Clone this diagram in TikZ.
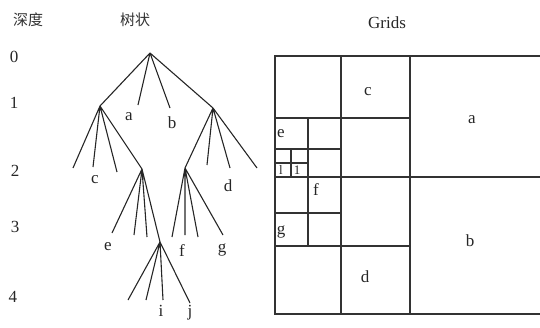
\documentclass[tikz,border=0pt]{standalone}
\usepackage{fontspec}
\setmainfont{Liberation Serif}
\newfontfamily\cjk{Noto Sans CJK SC}
\begin{document}
\begin{tikzpicture}[x=1pt,y=-1pt,
  edge/.style={line width=1.1pt,draw=black!85},
  gridline/.style={line width=1.2pt,draw=black!80},
  lbl/.style={font=\fontsize{17}{20}\selectfont,inner sep=0pt,text=black!85},
  cjklbl/.style={font=\cjk\fontsize{15}{18}\selectfont,inner sep=0pt,text=black!80}]
\useasboundingbox (0,0) rectangle (540,327);
% headers
\node[cjklbl] (hdepth) at (28,20) {深度};
\node[cjklbl] (htree) at (135,20) {树状};
\node[lbl] (hgrid) at (387,23) {Grids};
% depth numbers
\node[lbl] (d0) at (14,57) {0};
\node[lbl] (d1) at (14,103) {1};
\node[lbl] (d2) at (15,171) {2};
\node[lbl] (d3) at (15,227) {3};
\node[lbl] (d4) at (13,297) {4};
% tree vertices
\coordinate (r) at (150,53);
\coordinate (n1) at (100,106);
\coordinate (n2) at (213,108);
\coordinate (la) at (138,105);
\coordinate (lb) at (170,108);
\coordinate (l11) at (73,168);
\coordinate (l12) at (93,167);
\coordinate (l13) at (117,172);
\coordinate (n3) at (142,169);
\coordinate (n4) at (185,168);
\coordinate (l21) at (207,165);
\coordinate (l22) at (230,168);
\coordinate (l23) at (257,168);
\coordinate (l31) at (112,233);
\coordinate (l32) at (134,235);
\coordinate (l33) at (147,237);
\coordinate (n5) at (160,242);
\coordinate (l41) at (172,237);
\coordinate (l42) at (185,235);
\coordinate (l43) at (198,237);
\coordinate (l44) at (223,235);
\coordinate (l51) at (128,300);
\coordinate (l52) at (146,300);
\coordinate (l53) at (163,300);
\coordinate (l54) at (190,303);
\draw[edge] (r) -- (n1) (r) -- (la) (r) -- (lb) (r) -- (n2);
\draw[edge] (n1) -- (l11) (n1) -- (l12) (n1) -- (l13) (n1) -- (n3);
\draw[edge] (n2) -- (n4) (n2) -- (l21) (n2) -- (l22) (n2) -- (l23);
\draw[edge] (n3) -- (l31) (n3) -- (l32) (n3) -- (l33) (n3) -- (n5);
\draw[edge] (n4) -- (l41) (n4) -- (l42) (n4) -- (l43) (n4) -- (l44);
\draw[edge] (n5) -- (l51) (n5) -- (l52) (n5) -- (l53) (n5) -- (l54);
% tree labels
\node[lbl] (ta) at (129,117) {a};
\node[lbl] (tb) at (172,123) {b};
\node[lbl] (tc) at (95,180) {c};
\node[lbl] (td) at (228,186) {d};
\node[lbl] (te) at (108,247) {e};
\node[lbl] (tf) at (182,251) {f};
\node[lbl] (tg) at (222,250) {g};
\node[lbl] (ti) at (161,311) {i};
\node[lbl] (tj) at (190,313) {j};
% grid
\draw[gridline] (541,56) -- (275,56) -- (275,314) -- (541,314);
\draw[gridline] (341,56) -- (341,314);
\draw[gridline] (410,56) -- (410,314);
\draw[gridline] (275,118) -- (410,118);
\draw[gridline] (275,177) -- (541,177);
\draw[gridline] (275,246) -- (410,246);
\draw[gridline] (308,118) -- (308,246);
\draw[gridline] (275,149) -- (341,149);
\draw[gridline] (275,213) -- (341,213);
\draw[gridline] (275,163) -- (308,163);
\draw[gridline] (291,149) -- (291,177);
% grid labels
\node[lbl] (ga) at (472,120) {a};
\node[lbl] (gb) at (470,241) {b};
\node[lbl] (gc) at (368,92) {c};
\node[lbl] (gd) at (365,277) {d};
\node[lbl] (ge) at (281,134) {e};
\node[lbl] (gf) at (316,190) {f};
\node[lbl] (gg) at (281,232) {g};
\node[lbl,font=\fontsize{13}{15}\selectfont] (gi1) at (281,170) {l};
\node[lbl,font=\fontsize{13}{15}\selectfont] (gi2) at (297,170) {1};
\end{tikzpicture}
\end{document}
